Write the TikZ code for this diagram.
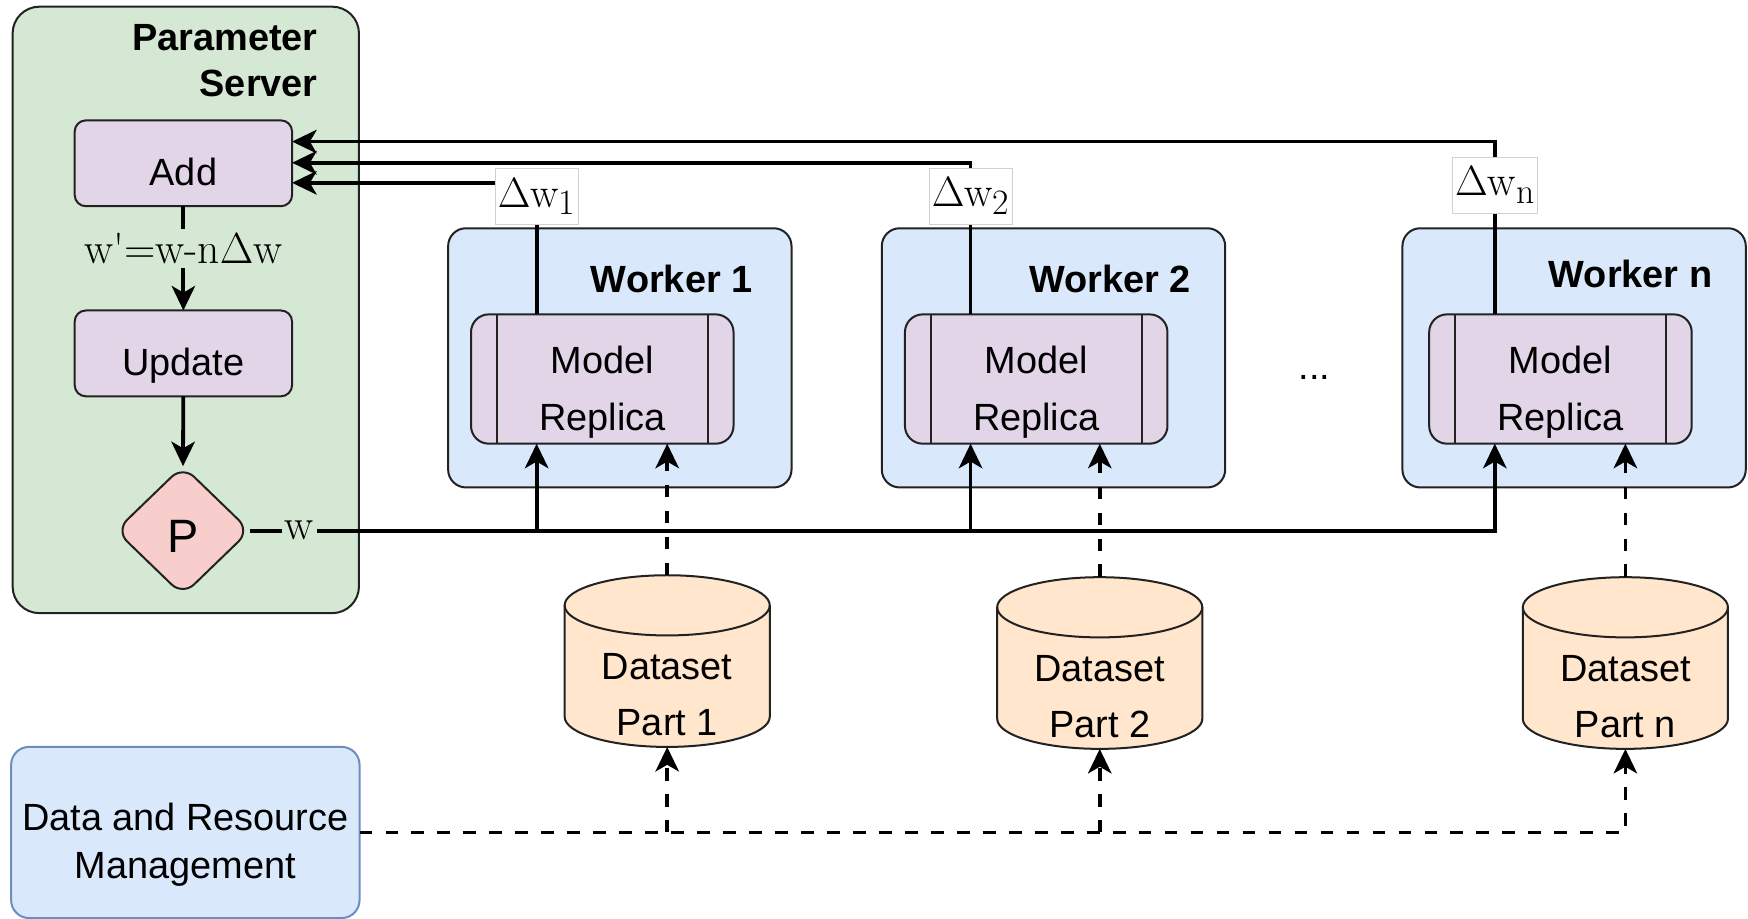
\documentclass[tikz,border=0pt]{standalone}
\usepackage{fix-cm}
\usepackage{fontspec}
\setsansfont{Liberation Sans}
\usetikzlibrary{arrows.meta,calc,shapes.geometric}

\definecolor{psgreen}{HTML}{D5E8D4}
\definecolor{oppurple}{HTML}{E1D5E7}
\definecolor{ppink}{HTML}{F8CECC}
\definecolor{wblue}{HTML}{DAE8FC}
\definecolor{dsorange}{HTML}{FFE6CC}
\definecolor{mgmtedge}{HTML}{6C8EBF}
\definecolor{edgegray}{HTML}{222222}

% lowered multi-line label, keeping the natural box size for centring
\newcommand\lowtab[3][c]{\raisebox{-#2}[\height][\depth]{\begin{tabular}{@{}#1@{}}#3\end{tabular}}}
% gradient symbol with a large, slightly lowered index
\newcommand\gradw[1]{$\Delta$w\raisebox{-3.3pt}{\fontsize{16}{16}\selectfont #1}}

\tikzset{
  every node/.style={inner sep=0pt, outer sep=0pt},
  sans/.style={font=\fontsize{17}{25}\selectfont\sffamily},
  heading/.style={font=\fontsize{17}{20.5}\selectfont\sffamily\bfseries},
  container/.style={draw=edgegray, line width=0.9pt, fill=psgreen, rounded corners=12pt},
  workerbox/.style={draw=edgegray, line width=0.9pt, fill=wblue, rounded corners=8pt,
    minimum width=154pt, minimum height=116.25pt},
  mgmtbox/.style={draw=mgmtedge, line width=0.9pt, fill=wblue, rounded corners=8pt,
    font=\fontsize{17}{21.25}\selectfont\sffamily},
  opbox/.style={draw=edgegray, line width=0.9pt, fill=oppurple, rounded corners=5pt,
    minimum width=97.5pt, minimum height=38.5pt, font=\fontsize{17}{25}\selectfont\sffamily},
  replica/.style={draw=edgegray, line width=0.9pt, fill=oppurple, rounded corners=8pt,
    minimum width=117.75pt, minimum height=58pt, font=\fontsize{17}{25.5}\selectfont\sffamily},
  replicabar/.style={draw=edgegray, line width=0.9pt},
  decision/.style={diamond, draw=edgegray, line width=0.9pt, fill=ppink, rounded corners=7pt,
    minimum width=60pt, minimum height=58pt, font=\fontsize{21}{25}\selectfont\sffamily},
  dataanchor/.style={minimum width=92pt, minimum height=77pt},
  drum/.style={draw=edgegray, line width=0.9pt, fill=dsorange},
  link/.style={line width=1.7pt, -{Stealth[length=11pt,width=10.5pt,inset=3pt]}},
  dlink/.style={link, dash pattern=on 5.7pt off 5.95pt},
  deltalbl/.style={fill=white, draw=black!18, line width=0.4pt, inner xsep=1.3pt,
    minimum height=25pt, font=\fontsize{19}{21}\selectfont},
  formula/.style={fill=psgreen, inner sep=2pt, font=\fontsize{19.5}{21}\selectfont},
}

\begin{document}
\begin{tikzpicture}[x=0.5pt, y=-0.5pt]
\useasboundingbox (0,0) rectangle (1568,824);

% parameter server
\node[container, minimum width=155.35pt, minimum height=272pt] (ps) at (166.65,278) {};
\node[heading, anchor=east] (pstitle) at (285,57.5)
  {\begin{tabular}{@{}r@{}}Parameter\\Server\end{tabular}};

% workers
\node[workerbox] (w1) at (556,321) {};
\node[workerbox] (w2) at (945,321) {};
\node[workerbox] (wn) at (1412,321) {};
\node[heading, anchor=base east] (w1t) at (675,262) {Worker 1};
\node[heading, anchor=base east] (w2t) at (1068,262) {Worker 2};
\node[heading, anchor=base east] (wnt) at (1536,258) {Worker n};

% data and resource management
\node[mgmtbox, minimum width=156.25pt, minimum height=76.75pt] (mgmt) at (166.25,746.75)
  {\lowtab{5.6pt}{Data and Resource\\Management}};

% server operations
\node[opbox] (add) at (164.5,146.5) {\lowtab{4.85pt}{Add}};
\node[opbox] (upd) at (164.5,317) {\lowtab{5.1pt}{Update}};
\node[decision] (p) at (164,476) {\lowtab{5pt}{P}};

% model replicas
\node[replica] (mr1) at (540.25,340) {\lowtab{5.25pt}{Model\\Replica}};
\node[replica] (mr2) at (929.5,340) {\lowtab{5.25pt}{Model\\Replica}};
\node[replica] (mrn) at (1399.75,340) {\lowtab{5.25pt}{Model\\Replica}};
\foreach \m in {mr1,mr2,mrn}{
  \draw[replicabar] ([xshift=11.5pt]\m.north west) -- ([xshift=11.5pt]\m.south west);
  \draw[replicabar] ([xshift=-11.5pt]\m.north east) -- ([xshift=-11.5pt]\m.south east);
}

% dataset partitions
\node[dataanchor] (ds1) at (598.5,593) {};
\node[dataanchor] (ds2) at (986.5,594.75) {};
\node[dataanchor] (dsn) at (1458,594.75) {};
\foreach \d in {ds1,ds2,dsn}{
  \path[drum] ([yshift=-13.5pt]\d.north west) -- ([yshift=13.5pt]\d.south west)
    arc[start angle=180, end angle=360, x radius=46pt, y radius=13.5pt]
    -- ([yshift=-13.5pt]\d.north east)
    arc[start angle=0, end angle=180, x radius=46pt, y radius=13.5pt] -- cycle;
  \draw[drum, fill=none] ([yshift=-13.5pt]\d.north west)
    arc[start angle=180, end angle=360, x radius=46pt, y radius=13.5pt];
}
\node[sans] (ds1t) at (598.5,624.7) {\lowtab{0pt}{Dataset\\Part 1}};
\node[sans] (ds2t) at (986.5,626.5) {\lowtab{0pt}{Dataset\\Part 2}};
\node[sans] (dsnt) at (1458,626.5) {\lowtab{0pt}{Dataset\\Part n}};

\node[sans, anchor=base] (dots) at (1179,340) {...};

% connection points on the replicas
\coordinate (m1in)  at ($(mr1.south west)!0.25!(mr1.south east)$);
\coordinate (m2in)  at ($(mr2.south west)!0.25!(mr2.south east)$);
\coordinate (mnin)  at ($(mrn.south west)!0.25!(mrn.south east)$);
\coordinate (m1out) at ($(mr1.north west)!0.25!(mr1.north east)$);
\coordinate (m2out) at ($(mr2.north west)!0.25!(mr2.north east)$);
\coordinate (mnout) at ($(mrn.north west)!0.25!(mrn.north east)$);
\coordinate (y1) at (0,164);
\coordinate (y2) at (0,146);
\coordinate (yn) at (0,127);

% server internal flow
\draw[link] (add) -- node[formula, pos=0.404] {w\textquotesingle=w-n$\Delta$w} (upd);
\draw[link] (upd) -- (p);

% broadcast of the parameters
\draw[link] (p.east) -- node[formula, pos=0.04, inner xsep=1.5pt] {w} (p.east -| mnin) -- (mnin);
\draw[link] (p.east -| m1in) -- (m1in);
\draw[link] (p.east -| m2in) -- (m2in);

% gradient updates back to the server
\draw[link] (m1out) -- node[deltalbl, pos=0.898] {\gradw{1}} (m1out |- y1) -- (add.east |- y1);
\draw[link] (m2out) -- node[deltalbl, pos=0.78] {\gradw{2}} (m2out |- y2) -- (add.east |- y2);
\draw[link] (mnout) -- node[deltalbl, pos=0.748] {\gradw{n}} (mnout |- yn) -- (add.east |- yn);

% data feeds
\draw[dlink] (ds1.north) -- (ds1.north |- mr1.south);
\draw[dlink] (ds2.north) -- (ds2.north |- mr2.south);
\draw[dlink] (dsn.north) -- (dsn.north |- mrn.south);
\draw[dlink] (mgmt.east) -| (dsn.south);
\draw[dlink] (mgmt.east -| ds1.south) -- (ds1.south);
\draw[dlink] (mgmt.east -| ds2.south) -- (ds2.south);
\end{tikzpicture}
\end{document}
